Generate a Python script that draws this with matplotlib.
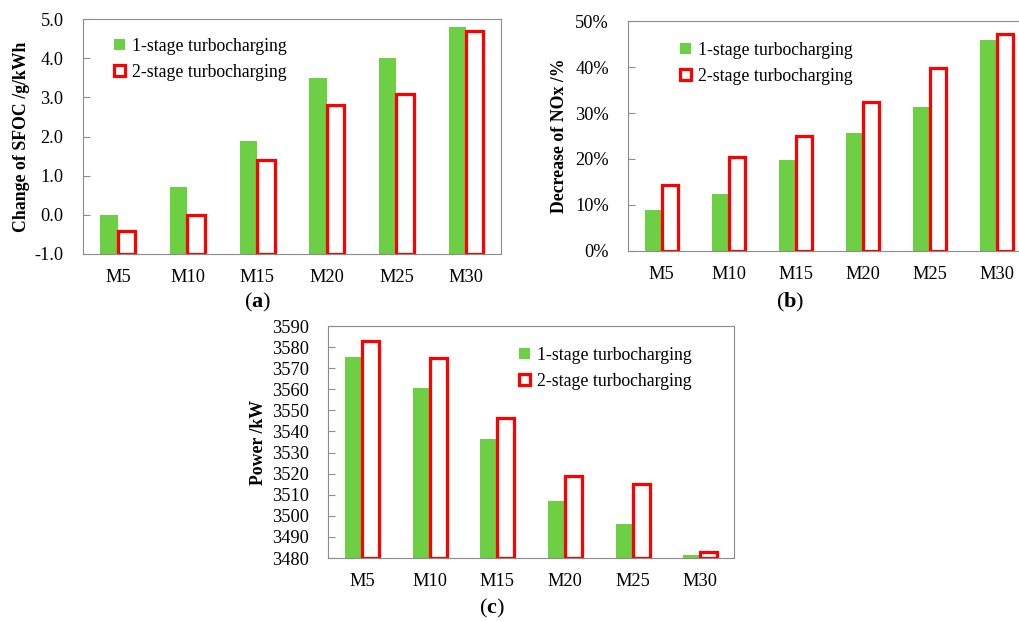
import numpy as np
import matplotlib
matplotlib.use("Agg")
import matplotlib.pyplot as plt
from matplotlib.patches import Patch

plt.rcParams['font.family'] = ['Liberation Serif', 'DejaVu Serif']
plt.rcParams['mathtext.fontset'] = 'custom'
plt.rcParams['mathtext.rm'] = 'Liberation Serif'
plt.rcParams['mathtext.bf'] = 'Liberation Serif:bold'

# Cases and results for the two turbocharging layouts
cases = ["M5", "M10", "M15", "M20", "M25", "M30"]
series_names = ["1-stage turbocharging", "2-stage turbocharging"]

sfoc_1stage = [0.0, 0.7, 1.9, 3.5, 4.0, 4.8]
sfoc_2stage = [-0.4, 0.0, 1.4, 2.8, 3.1, 4.7]

nox_1stage = [9.0, 12.4, 19.7, 25.6, 31.3, 45.9]
nox_2stage = [14.3, 20.5, 25.0, 32.4, 39.7, 47.2]

power_1stage = [3575.5, 3560.8, 3536.6, 3507.2, 3496.2, 3481.6]
power_2stage = [3583.0, 3574.8, 3546.6, 3519.0, 3515.2, 3483.0]

GREEN = "#6dcf44"
RED = "#ff0000"
FRAME = "#8c8c8c"
FS = 13.2


def bar_panel(ax, v1, v2, base, ymin, ymax, step, fmt, ylabel, leg_xy):
    x = np.arange(len(cases))
    w = 0.25
    ax.bar(x - w / 2, np.array(v1) - base, w, bottom=base, color=GREEN,
           label=series_names[0], zorder=2)
    ax.bar(x + w / 2, np.array(v2) - base, w, bottom=base, facecolor="white",
           edgecolor=RED, linewidth=2.3, label=series_names[1], zorder=3)
    ax.set_xlim(-0.5, len(cases) - 0.5)
    ax.set_ylim(ymin, ymax)
    ticks = np.arange(ymin, ymax + step / 2, step)
    ax.set_yticks(ticks)
    ax.set_yticklabels([fmt(t) for t in ticks], fontsize=FS)
    ax.set_xticks(x)
    ax.set_xticklabels(cases, fontsize=FS)
    ax.tick_params(axis="y", direction="in", length=5, width=0.8,
                   color=FRAME, pad=14)
    ax.tick_params(axis="x", length=0, pad=11)
    for s in ax.spines.values():
        s.set_color(FRAME)
        s.set_linewidth(0.8)
    ax.set_ylabel(ylabel, fontsize=12.8, fontweight="bold")
    handles = [Patch(facecolor=GREEN, edgecolor="none"),
               Patch(facecolor="white", edgecolor=RED, linewidth=2.3)]
    ax.legend(handles, series_names, loc="upper left", bbox_to_anchor=leg_xy,
              frameon=False, fontsize=12.8, handlelength=0.6, handleheight=0.6,
              handletextpad=0.4, labelspacing=0.5, borderpad=0,
              borderaxespad=0)


fig = plt.figure(figsize=(10.19, 6.21), dpi=100)

ax_a = fig.add_axes([0.0815, 0.591, 0.41, 0.378])
bar_panel(ax_a, sfoc_1stage, sfoc_2stage, -1.0, -1.0, 5.0, 1.0,
          lambda t: f"{t:.1f}", "Change of SFOC /g/kWh", (0.075, 0.92))
ax_a.yaxis.set_label_coords(-0.128, 0.5)

ax_b = fig.add_axes([0.6165, 0.596, 0.3945, 0.370])
bar_panel(ax_b, nox_1stage, nox_2stage, 0.0, 0, 50, 10,
          lambda t: f"{t:.0f}%", "Decrease of NOx /%", (0.13, 0.91))
ax_b.yaxis.set_label_coords(-0.15, 0.5)

ax_c = fig.add_axes([0.322, 0.1014, 0.3985, 0.3736])
bar_panel(ax_c, power_1stage, power_2stage, 3480, 3480, 3590, 10,
          lambda t: f"{t:.0f}", "Power /kW", (0.47, 0.91))
ax_c.yaxis.set_label_coords(-0.15, 0.5)

for label, (px, py) in zip("abc", [(258, 302), (790, 302), (492, 608)]):
    fig.text(px / 1019, 1 - py / 621, "(" + r"$\mathbf{" + label + "}$" + ")",
             fontsize=16, ha="center", va="center")

fig.savefig("out.png", dpi=100)
